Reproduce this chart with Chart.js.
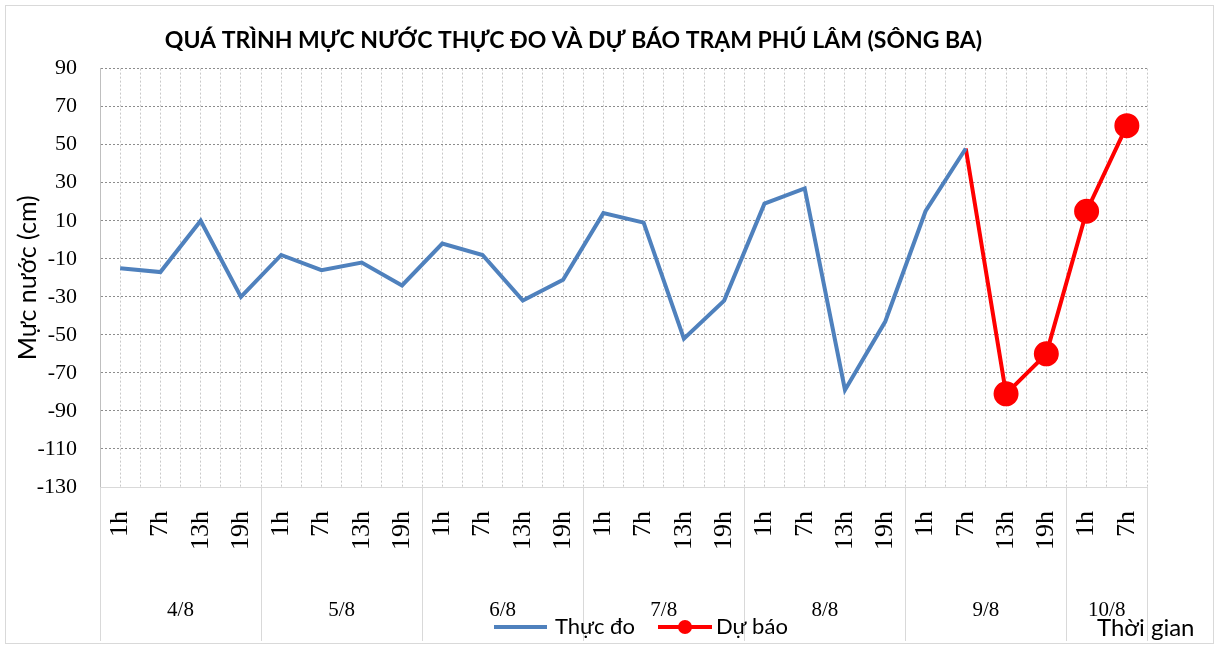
<!DOCTYPE html>
<html>
<head>
<meta charset="utf-8">
<script src="https://cdn.jsdelivr.net/npm/chart.js@4/dist/chart.umd.min.js"></script>
<style>
  html, body { margin: 0; padding: 0; background: #fff; }
</style>
</head>
<body>
<canvas id="chartMucNuoc" width="1219" height="649"></canvas>
<script>
// --- Dữ liệu ---
const gioLabels = ['1h', '7h', '13h', '19h', '1h', '7h', '13h', '19h', '1h', '7h', '13h', '19h',
    '1h', '7h', '13h', '19h', '1h', '7h', '13h', '19h', '1h', '7h', '13h', '19h', '1h', '7h'];
const ngayLabels = ['4/8', '5/8', '6/8', '7/8', '8/8', '9/8', '10/8'];
const soGioMoiNgay = [4, 4, 4, 4, 4, 4, 2];

const thucDo = [-15, -17, 10, -30, -8, -16, -12, -24, -2, -8, -32, -21,
    14, 9, -52, -32, 19, 27, -79, -43, 15, 48, null, null, null, null];
const duBao = [null, null, null, null, null, null, null, null, null, null, null, null,
    null, null, null, null, null, null, null, null, null, 48, -81, -60, 15, 60];

const yMin = -130;
const yMax = 90;
const yStep = 20;

const batDauDuBao = duBao.findIndex(v => v !== null);

// --- Plugin: khung, nhãn ngày, chú giải ---
const khungPlugin = {
    id: 'khung',
    beforeDraw(chart) {
        const ctx = chart.ctx;
        ctx.save();
        ctx.fillStyle = '#fff';
        ctx.fillRect(0, 0, chart.width, chart.height);
        ctx.strokeStyle = '#d9d9d9';
        ctx.lineWidth = 1;
        ctx.strokeRect(5.5, 5.5, chart.width - 11, chart.height - 11);
        ctx.restore();
    },
    afterDraw(chart) {
        const ctx = chart.ctx;
        const x = chart.scales.x;
        const area = chart.chartArea;
        const nuaBuoc = (x.getPixelForValue(1) - x.getPixelForValue(0)) / 2;

        ctx.save();
        // vạch phân cách ngày
        ctx.strokeStyle = '#d9d9d9';
        ctx.lineWidth = 1;
        let start = 0;
        const bienNgay = [];
        soGioMoiNgay.forEach(n => {
            bienNgay.push(start);
            start += n;
        });
        bienNgay.push(start);
        bienNgay.forEach(i => {
            const px = Math.round(x.getPixelForValue(i) - nuaBuoc) + 0.5;
            ctx.beginPath();
            ctx.moveTo(px, area.bottom);
            ctx.lineTo(px, 641);
            ctx.stroke();
        });

        // nhãn ngày
        ctx.fillStyle = '#000';
        ctx.font = '21px "Liberation Serif"';
        ctx.textAlign = 'center';
        ctx.textBaseline = 'middle';
        ngayLabels.forEach((ngay, i) => {
            const a = bienNgay[i];
            const b = a + soGioMoiNgay[i] - 1;
            const cx = (x.getPixelForValue(a) + x.getPixelForValue(b)) / 2;
            ctx.fillText(ngay, cx, 610);
        });

        // chú giải
        const ds = chart.data.datasets;
        const ly = 627;
        ctx.font = '22px Lato';
        ctx.textAlign = 'left';
        ctx.lineCap = 'butt';

        ctx.strokeStyle = ds[0].borderColor;
        ctx.lineWidth = 4;
        ctx.beginPath();
        ctx.moveTo(494, ly);
        ctx.lineTo(547, ly);
        ctx.stroke();
        ctx.fillText(ds[0].label, 555, ly);

        ctx.strokeStyle = ds[1].borderColor;
        ctx.beginPath();
        ctx.moveTo(658, ly);
        ctx.lineTo(712, ly);
        ctx.stroke();
        ctx.fillStyle = ds[1].pointBackgroundColor;
        ctx.beginPath();
        ctx.arc(685, ly, 7, 0, Math.PI * 2);
        ctx.fill();
        ctx.fillStyle = '#000';
        ctx.fillText(ds[1].label, 716, ly);

        // tên trục hoành
        ctx.font = '24px Lato';
        ctx.fillText('Thời gian', 1097, 628);
        ctx.restore();
    }
};

new Chart(document.getElementById('chartMucNuoc').getContext('2d'), {
    type: 'line',
    data: {
        labels: gioLabels,
        datasets: [{
            label: 'Thực đo',
            data: thucDo,
            borderColor: '#4F81BD',
            backgroundColor: '#4F81BD',
            borderWidth: 4,
            pointRadius: 0,
            tension: 0
        }, {
            label: 'Dự báo',
            data: duBao,
            borderColor: '#FF0000',
            backgroundColor: '#FF0000',
            pointBackgroundColor: '#FF0000',
            pointBorderColor: '#FF0000',
            borderWidth: 4,
            pointRadius: c => (c.dataIndex === batDauDuBao ? 0 : 10.5),
            tension: 0
        }]
    },
    options: {
        responsive: false,
        animation: false,
        layout: { padding: { left: 0, right: 72, top: 0, bottom: 0 } },
        plugins: {
            legend: { display: false },
            tooltip: { enabled: false },
            title: {
                display: true,
                text: 'QUÁ TRÌNH MỰC NƯỚC THỰC ĐO VÀ DỰ BÁO TRẠM PHÚ LÂM (SÔNG BA)',
                color: '#000',
                font: { family: 'Lato', size: 23, weight: 'bold' },
                padding: { top: 27, bottom: 14 }
            }
        },
        scales: {
            x: {
                type: 'category',
                offset: true,
                grid: { offset: false, color: '#c8c8c8', drawTicks: false },
                border: { color: '#d9d9d9', dash: [2, 2] },
                ticks: {
                    color: '#000',
                    font: { family: 'Liberation Serif', size: 26 },
                    maxRotation: 90,
                    minRotation: 90,
                    autoSkip: false,
                    padding: 24
                },
                afterFit: s => { s.height = 162; }
            },
            x2: {
                type: 'category',
                position: 'bottom',
                labels: gioLabels,
                offset: true,
                grid: { offset: true, color: '#c8c8c8', drawTicks: false },
                border: { display: false, dash: [2, 2] },
                ticks: { display: false },
                afterFit: s => { s.height = 0; }
            },
            y: {
                min: yMin,
                max: yMax,
                ticks: {
                    stepSize: yStep,
                    color: '#000',
                    font: { family: 'Liberation Serif', size: 22 },
                    padding: 23
                },
                grid: { color: '#8c8c8c', drawTicks: false },
                border: { color: '#bfbfbf', dash: [2, 2] },
                title: {
                    display: true,
                    text: 'Mực nước (cm)',
                    color: '#000',
                    font: { family: 'Lato', size: 25 },
                    padding: { top: 13, bottom: 0 }
                },
                afterFit: s => { s.width = 100; }
            }
        }
    },
    plugins: [khungPlugin]
});
</script>
</body>
</html>
